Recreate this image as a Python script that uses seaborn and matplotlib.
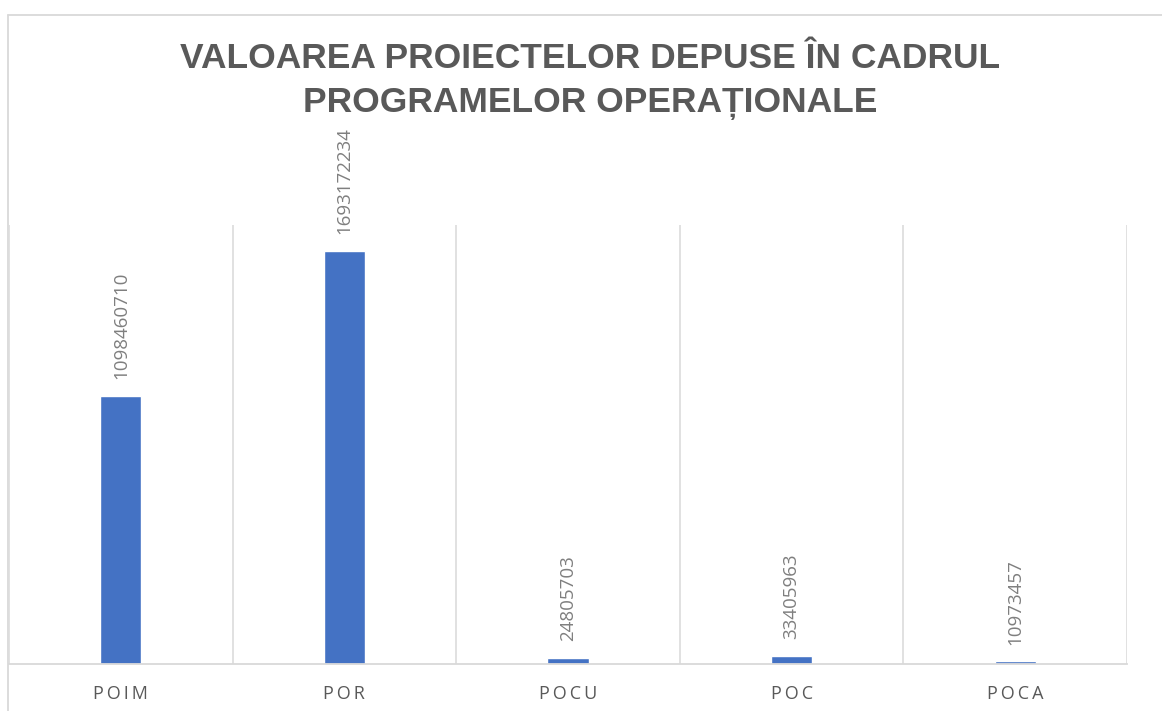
import matplotlib
matplotlib.use("Agg")
import matplotlib.pyplot as plt
from matplotlib.lines import Line2D
import seaborn as sns
import pandas as pd

categories = ["POIM", "POR", "POCU", "POC", "POCA"]
values = [1098460710, 1693172234, 24805703, 33405963, 10973457]
title_text = "VALOAREA PROIECTELOR DEPUSE ÎN CADRUL\nPROGRAMELOR OPERAȚIONALE"

df = pd.DataFrame({"cat": categories, "val": values})

sns.set_theme(style="white")
plt.rcParams["font.family"] = ["Open Sans", "DejaVu Sans"]

fig = plt.figure(figsize=(11.62, 7.11), dpi=100)
ax = fig.add_axes([9 / 1162, 47 / 711, (1127 - 9) / 1162, (664 - 225) / 711])

sns.barplot(data=df, x="cat", y="val", color="#4472C4", saturation=1,
            width=0.184, ax=ax)

ax.set_ylim(0, 1.8e9)
ax.set_xlim(-0.5, len(categories) - 0.5)
ax.set_xlabel("")
ax.set_ylabel("")
ax.set_yticks([])

spaced = ["\u2009".join(list(c)) for c in categories]
ax.set_xticks(range(len(categories)))
ax.set_xticklabels(spaced, fontsize=13, color="#595959",
                   family=["Open Sans", "DejaVu Sans"])
ax.tick_params(axis="x", length=0, pad=15)

ax.set_xticks([i - 0.5 for i in range(len(categories) + 1)], minor=True)
ax.tick_params(axis="x", which="minor", length=0)
ax.grid(True, which="minor", axis="x", color="#d9d9d9", linewidth=1.1)
ax.grid(False, which="major")

for s in ["top", "right", "left"]:
    ax.spines[s].set_visible(False)
ax.spines["bottom"].set_color("#d9d9d9")
ax.spines["bottom"].set_linewidth(1.3)

ax.bar_label(ax.containers[0], labels=[str(v) for v in values], rotation=90,
             padding=12, fontsize=13.5, color="#7f7f7f")

fig.text(590 / 1162, 1 - 81 / 711, title_text, ha="center", va="center",
         fontsize=25.5, fontweight="bold", color="#595959",
         family="Liberation Sans", linespacing=1.42)

# outer chart border (top and left)
fig.add_artist(Line2D([8 / 1162, 1.0], [1 - 15 / 711, 1 - 15 / 711],
                      transform=fig.transFigure, color="#d9d9d9", linewidth=1.3))
fig.add_artist(Line2D([8 / 1162, 8 / 1162], [0, 1 - 15 / 711],
                      transform=fig.transFigure, color="#d9d9d9", linewidth=1.3))

fig.savefig("out.png", dpi=100, facecolor="white")
